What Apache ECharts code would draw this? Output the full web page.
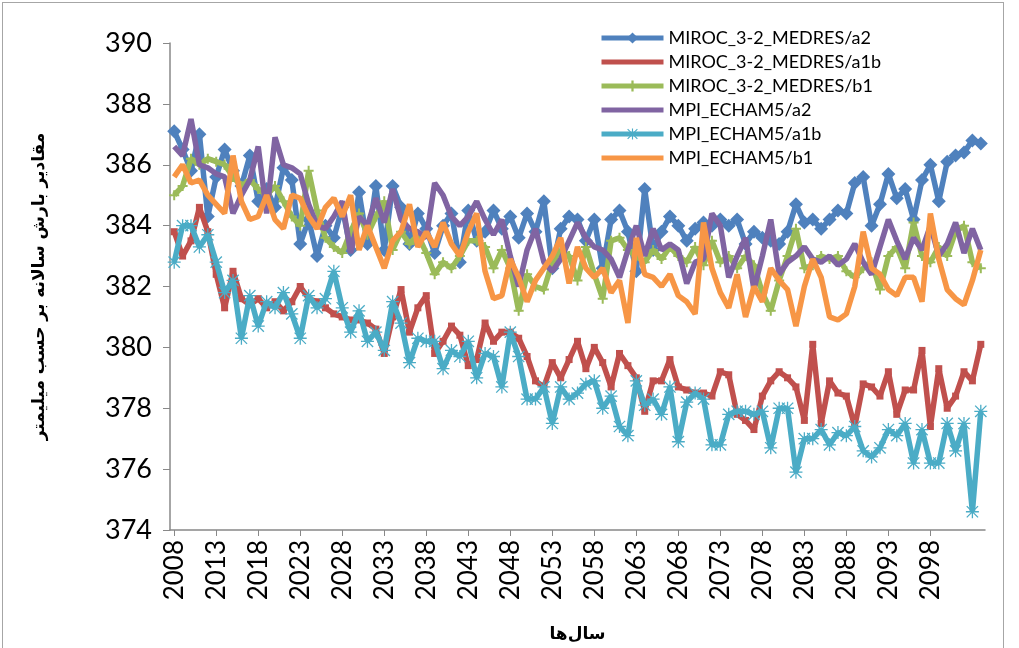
<!DOCTYPE html>
<html><head><meta charset="utf-8">
<script src="https://cdn.jsdelivr.net/npm/echarts@6/dist/echarts.min.js"></script>
<style>
html,body{margin:0;padding:0;background:#fff;}
#frame{position:absolute;left:2px;top:2px;width:1002px;height:700px;border:1px solid #a6a6a6;box-sizing:border-box;}
#c{position:absolute;left:0;top:0;width:1019px;height:648px;}
</style></head>
<body><div id="frame"></div><div id="c"></div>
<script>
const years = [];
for (let y = 2008; y <= 2104; y++) years.push(String(y));

const seriesNames = ["MIROC_3-2_MEDRES/a2","MIROC_3-2_MEDRES/a1b","MIROC_3-2_MEDRES/b1","MPI_ECHAM5/a2","MPI_ECHAM5/a1b","MPI_ECHAM5/b1"];

const mirocA2 = [387.1,386.5,385.8,387.0,384.3,385.6,386.5,385.8,385.3,386.3,384.8,385.2,384.6,385.9,385.5,383.4,384.2,383.0,384.0,383.6,
384.6,383.2,385.1,383.4,385.3,383.2,385.3,384.6,383.4,384.4,383.9,383.1,384.0,384.4,382.8,384.5,383.5,383.8,384.5,383.9,
384.3,383.6,384.4,383.8,384.8,382.6,383.9,384.3,384.2,383.5,384.2,382.6,384.2,384.5,383.8,382.5,385.2,383.2,383.8,384.3,
384.0,383.5,383.9,384.1,384.0,384.2,384.0,384.2,383.4,383.8,383.6,383.5,383.4,383.8,384.7,384.1,384.2,383.9,384.2,384.5,
384.4,385.4,385.6,384.0,384.7,385.7,384.9,385.2,384.2,385.5,386.0,384.8,386.1,386.3,386.4,386.8,386.7];

const mirocA1b = [383.8,383.0,383.5,384.6,383.8,382.4,381.3,382.5,381.6,381.4,381.6,381.3,381.5,381.2,381.5,382.0,381.6,381.5,381.3,381.1,
381.0,380.9,380.9,380.8,380.6,379.8,381.0,381.9,380.5,381.3,381.7,379.8,380.2,380.7,380.4,379.4,379.6,380.8,380.2,380.5,
380.5,380.3,379.7,378.9,378.7,379.5,379.0,379.6,380.2,379.3,380.0,379.5,378.7,379.8,379.4,379.0,377.9,378.9,378.9,379.6,
378.7,378.6,378.5,378.5,378.4,379.2,379.1,377.8,377.6,377.3,378.4,378.9,379.2,379.0,378.7,377.6,380.1,377.5,378.9,378.5,
378.4,377.4,378.8,378.7,378.4,379.2,377.8,378.6,378.6,379.9,377.4,379.3,378.0,378.4,379.2,378.9,380.1];

const mirocB1 = [385.0,385.3,386.2,386.0,386.2,386.1,386.0,385.6,385.3,385.5,385.2,385.0,385.3,384.8,384.3,384.0,385.8,384.5,383.6,383.3,
383.1,383.8,384.4,383.7,384.3,384.8,383.2,383.8,383.4,383.7,383.1,382.4,382.8,382.6,383.0,383.5,383.5,383.3,382.6,383.2,
382.6,381.2,382.4,382.0,381.9,382.8,383.2,383.0,382.2,383.3,382.4,381.6,383.5,383.6,383.2,383.0,382.8,383.2,382.9,383.3,
383.0,382.8,383.3,382.7,383.5,382.8,383.0,382.6,383.0,382.7,381.8,381.2,382.2,383.0,383.9,382.6,382.7,383.0,382.9,383.0,
382.5,382.3,382.6,382.8,381.9,383.0,383.3,382.6,384.1,383.0,382.8,383.3,383.0,383.8,384.0,382.8,382.6];

const mpiA2 = [386.6,386.3,387.5,386.0,385.9,385.7,385.6,384.4,385.0,385.5,386.6,384.4,386.9,386.0,385.9,385.7,384.7,384.0,383.9,384.3,
384.8,383.1,384.3,384.0,384.9,384.1,385.2,384.2,383.9,383.8,383.6,385.4,385.0,384.3,384.0,384.3,384.8,384.2,383.7,384.2,
383.0,382.0,383.2,383.9,382.8,382.5,382.9,383.5,384.1,383.6,383.3,383.2,382.9,382.3,383.2,384.0,383.0,383.9,383.2,383.4,
383.2,382.1,382.8,382.9,384.4,384.0,382.3,383.0,383.6,381.9,383.0,384.2,382.4,382.8,383.0,383.3,382.9,382.8,383.0,382.7,
382.9,383.4,382.8,382.4,383.3,384.2,383.5,382.9,383.6,383.2,384.0,383.0,383.4,384.1,383.1,383.9,383.2];

const mpiA1b = [382.8,384.0,384.0,383.3,383.7,382.8,381.8,382.2,380.3,381.7,380.7,381.5,381.3,381.8,381.1,380.3,381.7,381.3,381.6,382.5,
381.3,380.5,381.2,380.2,380.5,379.9,381.5,380.8,379.5,380.3,380.2,380.2,379.3,379.9,379.7,380.2,379.0,379.8,379.7,378.7,
380.5,379.7,378.3,378.3,378.7,377.5,378.7,378.3,378.5,378.8,378.9,378.0,378.4,377.4,377.1,378.9,378.1,378.3,377.8,378.7,
376.9,378.2,378.5,378.3,376.8,376.8,377.8,377.9,377.9,377.8,377.9,376.7,378.0,378.0,375.9,377.0,377.0,377.3,376.8,377.2,
377.1,377.4,376.6,376.4,376.7,377.3,377.1,377.5,376.2,377.3,376.2,376.2,377.5,376.6,377.5,374.6,377.9];

const mpiB1 = [385.6,386.0,385.4,385.5,385.0,384.7,384.4,386.3,384.8,384.2,384.3,385.0,384.2,383.9,385.0,384.9,384.3,383.9,384.6,384.9,
384.3,385.0,383.2,384.0,383.3,382.6,383.5,383.8,384.7,383.3,383.8,383.3,384.1,383.4,383.0,383.8,384.4,382.5,381.6,381.7,
382.9,382.3,381.5,382.2,382.6,383.0,383.6,382.1,383.3,382.6,382.3,382.6,381.8,382.2,380.8,383.6,382.4,382.3,382.0,382.4,
381.7,381.5,381.1,384.1,382.6,381.8,381.3,382.4,381.0,382.0,381.5,382.6,382.2,381.9,380.7,382.0,382.9,382.3,381.0,380.9,
381.1,382.0,383.8,382.6,382.4,381.9,381.7,382.3,382.3,381.5,384.4,382.9,381.9,381.6,381.4,382.2,383.2];

const yTicks = {min: 374, max: 390, interval: 2};

const colors = ['#4F81BD','#C0504D','#9BBB59','#8064A2','#4BACC6','#F79646'];
const plusPath = 'path://M8,0 H12 V8 H20 V12 H12 V20 H8 V12 H0 V8 H8 Z';
const starPath = 'path://M9,0 H11 V20 H9 Z M0,9 H20 V11 H0 Z M2,0.6 L19.4,18 L18,19.4 L0.6,2 Z M18,0.6 L19.4,2 L2,19.4 L0.6,18 Z';
const barIcon = 'path://M0,0 H62 V5 H0 Z';

const dataSets = [mirocA2, mirocA1b, mirocB1, mpiA2, mpiA1b, mpiB1];
const symbols = ['diamond','rect',plusPath,'none',starPath,'none'];
const symbolSizes = [14,7,10,0,13,0];

const series = seriesNames.map((n,i)=>({
  name:n, type:'line', data:dataSets[i],
  symbol:symbols[i], symbolSize:symbolSizes[i], showSymbol: symbols[i] !== 'none', showAllSymbol:true,
  lineStyle:{width:5.5,color:colors[i]},
  itemStyle:{color:colors[i], borderWidth:0},
  emphasis:{disabled:true}, animation:false, z: 2+i
}));

const legendData = seriesNames.map((n,i)=> (i===1||i===3||i===5) ? {name:n, icon:barIcon} : {name:n});

const chart = echarts.init(document.getElementById('c'), null, {renderer:'canvas'});
chart.setOption({
  animation:false,
  color: colors,
  grid:{left:170, right:34, top:43, bottom:118, containLabel:false},
  legend:{
    orient:'vertical', left:594, top:24, itemWidth:62, itemHeight:14, itemGap:6,
    lineStyle:{width:5},
    textStyle:{fontFamily:'Lato', fontSize:18, color:'#000'},
    data: legendData
  },
  xAxis:{
    type:'category', data:years, boundaryGap:true,
    axisLine:{lineStyle:{color:'#888',width:1.5}},
    axisTick:{show:true, interval:(i)=> i%5===0 && i<=90, alignWithLabel:true, length:6, lineStyle:{color:'#888'}},
    axisLabel:{interval:(i)=> i%5===0 && i<=90, rotate:90, fontFamily:'Lato', fontSize:26, color:'#000', margin:10},
    name:'سال‌ها', nameLocation:'middle', nameGap:96,
    nameTextStyle:{fontFamily:'DejaVu Sans', fontWeight:'bold', fontSize:17, color:'#000'},
    splitLine:{show:false}
  },
  yAxis:{
    type:'value', min:yTicks.min, max:yTicks.max, interval:yTicks.interval,
    axisLine:{show:true, lineStyle:{color:'#888',width:1.5}},
    axisTick:{show:true, length:7, lineStyle:{color:'#888'}},
    axisLabel:{fontFamily:'Lato', fontSize:27, color:'#000', margin:18},
    splitLine:{show:false},
    name:'مقادیر بارش سالانه بر حسب میلیمتر', nameLocation:'middle', nameGap:122, nameRotate:90,
    nameTextStyle:{fontFamily:'DejaVu Sans', fontWeight:'bold', fontSize:17, color:'#000'}
  },
  series: series
});
</script>
</body></html>
